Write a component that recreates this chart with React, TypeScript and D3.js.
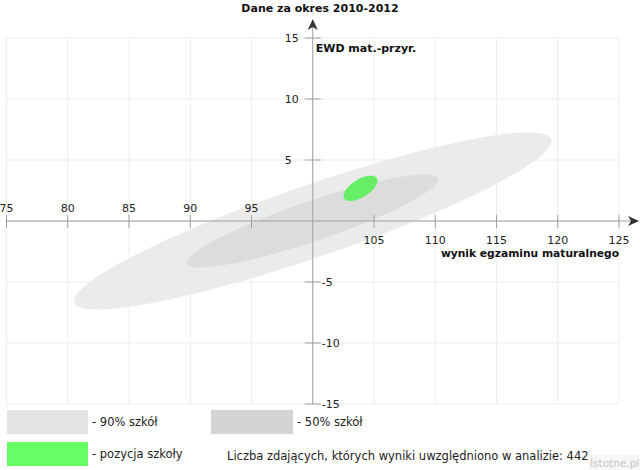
import * as d3 from "d3";

// axis ticks
const X_TICKS = [75, 80, 85, 90, 95, 100, 105, 110, 115, 120, 125];
const Y_TICKS = [-15, -10, -5, 0, 5, 10, 15];

// regions (data units: centre, semi-axes, rotation in degrees)
const REGION_NAMES = ["90% szkół", "50% szkół", "pozycja szkoły"];
const REGION_CX = [100, 100, 103.9];
const REGION_CY = [0, 0, 2.68];
const REGION_RX = [20.6, 10.8, 1.57];
const REGION_RY = [2.95, 1.63, 0.73];
const REGION_ANGLE = [19, 18.8, 32];

const REGION_FILL = ["#ebebeb", "#dcdcdc", "#66ee66"];
const LEGEND_FILL = ["#e3e3e3", "#d4d4d4", "#66ff66"];

const TITLE = "Dane za okres 2010-2012";
const X_TITLE = "wynik egzaminu maturalnego";
const Y_TITLE = "EWD mat.-przyr.";
const NOTE = "Liczba zdających, których wyniki uwzględniono w analizie: 442";

const W = 640;
const H = 470;
const FONT = "DejaVu Sans, sans-serif";

export default function App() {
  const x = d3.scaleLinear().domain([75, 125]).range([6.5, 619]);
  const y = d3.scaleLinear().domain([-15, 15]).range([404, 38]);
  const x0 = x(100);
  const y0 = y(0);
  const [xl, xr] = x.range();
  const [yb, yt] = y.range();

  const line = d3
    .line<[number, number]>()
    .x((d) => x(d[0]))
    .y((d) => y(d[1]))
    .curve(d3.curveLinearClosed);

  const ellipse = (i: number) => {
    const a = (REGION_ANGLE[i] * Math.PI) / 180;
    const pts = d3.range(0, 2 * Math.PI, Math.PI / 90).map((t) => {
      const u = REGION_RX[i] * Math.cos(t);
      const v = REGION_RY[i] * Math.sin(t);
      return [
        REGION_CX[i] + u * Math.cos(a) - v * Math.sin(a),
        REGION_CY[i] + u * Math.sin(a) + v * Math.cos(a),
      ] as [number, number];
    });
    return line(pts) || "";
  };

  const xArrowTip = W - 1;
  const yArrowTip = 19;

  return (
    <div style={{ position: "absolute", left: 0, top: 0 }}>
      <svg width={W} height={H} style={{ display: "block", background: "#fff" }} fontFamily={FONT}>
        {/* grid */}
        <g stroke="#ededed" strokeWidth={1}>
          {X_TICKS.map((t) => (
            <line key={"gx" + t} x1={x(t)} x2={x(t)} y1={yt} y2={yb} />
          ))}
          {Y_TICKS.map((t) => (
            <line key={"gy" + t} x1={xl} x2={xr} y1={y(t)} y2={y(t)} />
          ))}
        </g>

        {/* regions */}
        {REGION_NAMES.map((n, i) => (
          <path key={n} d={ellipse(i)} fill={REGION_FILL[i]} />
        ))}

        {/* axes */}
        <g stroke="#a0a0a0" strokeWidth={1}>
          <line x1={xl} x2={xArrowTip - 6} y1={y0} y2={y0} />
          <line x1={x0} x2={x0} y1={yb} y2={yArrowTip + 6} />
          {X_TICKS.filter((t) => t !== 100).map((t) => (
            <line key={"tx" + t} x1={x(t)} x2={x(t)} y1={y0 - 6} y2={y0 + 7} />
          ))}
          {Y_TICKS.filter((t) => t !== 0).map((t) => (
            <line key={"ty" + t} x1={x0 - 8} x2={x0 + 8} y1={y(t)} y2={y(t)} />
          ))}
        </g>
        <path
          d={`M${xArrowTip},${y0} L${xArrowTip - 11},${y0 - 5} L${xArrowTip - 8},${y0} L${xArrowTip - 11},${y0 + 5} Z`}
          fill="#333"
        />
        <path
          d={`M${x0},${yArrowTip} L${x0 - 5},${yArrowTip + 11} L${x0},${yArrowTip + 8} L${x0 + 5},${yArrowTip + 11} Z`}
          fill="#333"
        />

        {/* tick labels */}
        <g fontSize={11} fill="#222">
          {X_TICKS.filter((t) => t !== 100).map((t) => (
            <text key={"lx" + t} x={x(t)} y={t < 100 ? y0 - 9 : y0 + 23} textAnchor="middle">
              {t}
            </text>
          ))}
          {Y_TICKS.filter((t) => t !== 0).map((t) => (
            <text
              key={"ly" + t}
              x={t > 0 ? x0 - 28 : x0 + 9}
              y={y(t) + 4}
              textAnchor="start"
            >
              {t}
            </text>
          ))}
        </g>

        {/* titles */}
        <g fontSize={11} fontWeight="bold" fill="#111">
          <text x={W / 2} y={12} textAnchor="middle">{TITLE}</text>
          <text x={xr} y={y0 + 36} textAnchor="end" fontSize={10.7}>{X_TITLE}</text>
          <text x={x0 + 3} y={yt + 14}>{Y_TITLE}</text>
        </g>

        {/* legend */}
        <g fontSize={11.5} fill="#222">
          <rect x={7} y={410} width={81} height={24} fill={LEGEND_FILL[0]} />
          <text x={92} y={426}>- {REGION_NAMES[0]}</text>
          <rect x={211} y={410} width={82} height={24} fill={LEGEND_FILL[1]} />
          <text x={297} y={426}>- {REGION_NAMES[1]}</text>
          <rect x={7} y={442} width={81} height={24} fill={LEGEND_FILL[2]} />
          <text x={92} y={458}>- {REGION_NAMES[2]}</text>
          <text x={227} y={460}>{NOTE}</text>
        </g>

        {/* watermark */}
        <rect x={588} y={455} width={W - 588} height={H - 455} fill="#f6f6f6" />
        <text x={590} y={467} fontSize={10.5} fill="#c6c6c6">
          Istotne.pl
        </text>
      </svg>
    </div>
  );
}
